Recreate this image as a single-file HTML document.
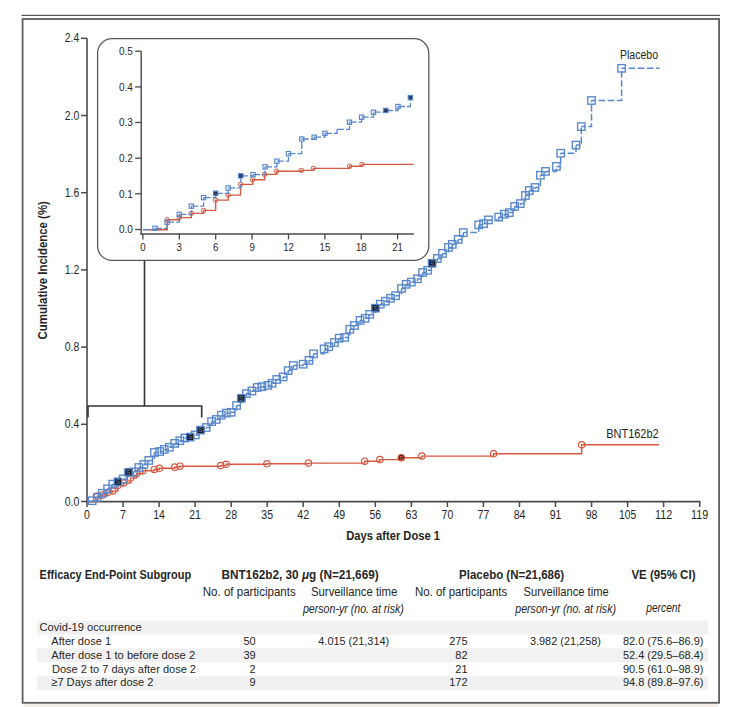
<!DOCTYPE html>
<html><head><meta charset="utf-8"><style>
html,body{margin:0;padding:0;background:#fff;}
svg{display:block;font-family:'Liberation Sans', sans-serif;}
</style></head><body>
<svg width="736" height="707" viewBox="0 0 736 707">
<rect width="736" height="707" fill="#fff"/>
<line x1="21.5" y1="15.3" x2="720" y2="15.3" stroke="#575757" stroke-width="1.3"/>
<rect x="22.6" y="19" width="696.5" height="683.8" fill="none" stroke="#5e5e5e" stroke-width="1.8"/>
<rect x="23.5" y="704" width="694.5" height="3" fill="#f3eee8"/>
<line x1="87" y1="38.3" x2="87" y2="502.4" stroke="#4a4a4a" stroke-width="1.6"/>
<line x1="86.2" y1="501.6" x2="700.4" y2="501.6" stroke="#4a4a4a" stroke-width="1.6"/>
<line x1="81" y1="501.5" x2="87" y2="501.5" stroke="#4a4a4a" stroke-width="1.5"/>
<text x="79.2" y="505.5" font-size="12" text-anchor="end" textLength="14.5" lengthAdjust="spacingAndGlyphs" fill="#262626">0.0</text>
<line x1="81" y1="424.3" x2="87" y2="424.3" stroke="#4a4a4a" stroke-width="1.5"/>
<text x="79.2" y="428.3" font-size="12" text-anchor="end" textLength="14.5" lengthAdjust="spacingAndGlyphs" fill="#262626">0.4</text>
<line x1="81" y1="347.1" x2="87" y2="347.1" stroke="#4a4a4a" stroke-width="1.5"/>
<text x="79.2" y="351.1" font-size="12" text-anchor="end" textLength="14.5" lengthAdjust="spacingAndGlyphs" fill="#262626">0.8</text>
<line x1="81" y1="269.9" x2="87" y2="269.9" stroke="#4a4a4a" stroke-width="1.5"/>
<text x="79.2" y="273.9" font-size="12" text-anchor="end" textLength="14.5" lengthAdjust="spacingAndGlyphs" fill="#262626">1.2</text>
<line x1="81" y1="192.7" x2="87" y2="192.7" stroke="#4a4a4a" stroke-width="1.5"/>
<text x="79.2" y="196.7" font-size="12" text-anchor="end" textLength="14.5" lengthAdjust="spacingAndGlyphs" fill="#262626">1.6</text>
<line x1="81" y1="115.5" x2="87" y2="115.5" stroke="#4a4a4a" stroke-width="1.5"/>
<text x="79.2" y="119.5" font-size="12" text-anchor="end" textLength="14.5" lengthAdjust="spacingAndGlyphs" fill="#262626">2.0</text>
<line x1="81" y1="38.3" x2="87" y2="38.3" stroke="#4a4a4a" stroke-width="1.5"/>
<text x="79.2" y="42.3" font-size="12" text-anchor="end" textLength="14.5" lengthAdjust="spacingAndGlyphs" fill="#262626">2.4</text>
<line x1="87.0" y1="501.6" x2="87.0" y2="507" stroke="#4a4a4a" stroke-width="1.5"/>
<text x="87.0" y="518.7" font-size="12" text-anchor="middle" textLength="5.9" lengthAdjust="spacingAndGlyphs" fill="#262626">0</text>
<line x1="123.0" y1="501.6" x2="123.0" y2="507" stroke="#4a4a4a" stroke-width="1.5"/>
<text x="123.0" y="518.7" font-size="12" text-anchor="middle" textLength="5.9" lengthAdjust="spacingAndGlyphs" fill="#262626">7</text>
<line x1="159.1" y1="501.6" x2="159.1" y2="507" stroke="#4a4a4a" stroke-width="1.5"/>
<text x="159.1" y="518.7" font-size="12" text-anchor="middle" textLength="11.7" lengthAdjust="spacingAndGlyphs" fill="#262626">14</text>
<line x1="195.1" y1="501.6" x2="195.1" y2="507" stroke="#4a4a4a" stroke-width="1.5"/>
<text x="195.1" y="518.7" font-size="12" text-anchor="middle" textLength="11.7" lengthAdjust="spacingAndGlyphs" fill="#262626">21</text>
<line x1="231.2" y1="501.6" x2="231.2" y2="507" stroke="#4a4a4a" stroke-width="1.5"/>
<text x="231.2" y="518.7" font-size="12" text-anchor="middle" textLength="11.7" lengthAdjust="spacingAndGlyphs" fill="#262626">28</text>
<line x1="267.2" y1="501.6" x2="267.2" y2="507" stroke="#4a4a4a" stroke-width="1.5"/>
<text x="267.2" y="518.7" font-size="12" text-anchor="middle" textLength="11.7" lengthAdjust="spacingAndGlyphs" fill="#262626">35</text>
<line x1="303.2" y1="501.6" x2="303.2" y2="507" stroke="#4a4a4a" stroke-width="1.5"/>
<text x="303.2" y="518.7" font-size="12" text-anchor="middle" textLength="11.7" lengthAdjust="spacingAndGlyphs" fill="#262626">42</text>
<line x1="339.3" y1="501.6" x2="339.3" y2="507" stroke="#4a4a4a" stroke-width="1.5"/>
<text x="339.3" y="518.7" font-size="12" text-anchor="middle" textLength="11.7" lengthAdjust="spacingAndGlyphs" fill="#262626">49</text>
<line x1="375.3" y1="501.6" x2="375.3" y2="507" stroke="#4a4a4a" stroke-width="1.5"/>
<text x="375.3" y="518.7" font-size="12" text-anchor="middle" textLength="11.7" lengthAdjust="spacingAndGlyphs" fill="#262626">56</text>
<line x1="411.4" y1="501.6" x2="411.4" y2="507" stroke="#4a4a4a" stroke-width="1.5"/>
<text x="411.4" y="518.7" font-size="12" text-anchor="middle" textLength="11.7" lengthAdjust="spacingAndGlyphs" fill="#262626">63</text>
<line x1="447.4" y1="501.6" x2="447.4" y2="507" stroke="#4a4a4a" stroke-width="1.5"/>
<text x="447.4" y="518.7" font-size="12" text-anchor="middle" textLength="11.7" lengthAdjust="spacingAndGlyphs" fill="#262626">70</text>
<line x1="483.4" y1="501.6" x2="483.4" y2="507" stroke="#4a4a4a" stroke-width="1.5"/>
<text x="483.4" y="518.7" font-size="12" text-anchor="middle" textLength="11.7" lengthAdjust="spacingAndGlyphs" fill="#262626">77</text>
<line x1="519.5" y1="501.6" x2="519.5" y2="507" stroke="#4a4a4a" stroke-width="1.5"/>
<text x="519.5" y="518.7" font-size="12" text-anchor="middle" textLength="11.7" lengthAdjust="spacingAndGlyphs" fill="#262626">84</text>
<line x1="555.5" y1="501.6" x2="555.5" y2="507" stroke="#4a4a4a" stroke-width="1.5"/>
<text x="555.5" y="518.7" font-size="12" text-anchor="middle" textLength="11.7" lengthAdjust="spacingAndGlyphs" fill="#262626">91</text>
<line x1="591.6" y1="501.6" x2="591.6" y2="507" stroke="#4a4a4a" stroke-width="1.5"/>
<text x="591.6" y="518.7" font-size="12" text-anchor="middle" textLength="11.7" lengthAdjust="spacingAndGlyphs" fill="#262626">98</text>
<line x1="627.6" y1="501.6" x2="627.6" y2="507" stroke="#4a4a4a" stroke-width="1.5"/>
<text x="627.6" y="518.7" font-size="12" text-anchor="middle" textLength="17.2" lengthAdjust="spacingAndGlyphs" fill="#262626">105</text>
<line x1="663.6" y1="501.6" x2="663.6" y2="507" stroke="#4a4a4a" stroke-width="1.5"/>
<text x="663.6" y="518.7" font-size="12" text-anchor="middle" textLength="17.2" lengthAdjust="spacingAndGlyphs" fill="#262626">112</text>
<line x1="699.7" y1="501.6" x2="699.7" y2="507" stroke="#4a4a4a" stroke-width="1.5"/>
<text x="699.7" y="518.7" font-size="12" text-anchor="middle" textLength="17.2" lengthAdjust="spacingAndGlyphs" fill="#262626">119</text>
<rect x="97.6" y="38.7" width="331.2" height="221.7" rx="14.5" ry="14.5" fill="none" stroke="#5a5a5a" stroke-width="1.3"/>
<line x1="141.2" y1="51.2" x2="141.2" y2="234.6" stroke="#4a4a4a" stroke-width="1.4"/>
<line x1="140.5" y1="234" x2="413.8" y2="234" stroke="#4a4a4a" stroke-width="1.4"/>
<line x1="135.1" y1="229.5" x2="141.2" y2="229.5" stroke="#4a4a4a" stroke-width="1.3"/>
<text x="132.8" y="233.2" font-size="11.2" text-anchor="end" textLength="13.9" lengthAdjust="spacingAndGlyphs" fill="#262626">0.0</text>
<line x1="135.1" y1="193.8" x2="141.2" y2="193.8" stroke="#4a4a4a" stroke-width="1.3"/>
<text x="132.8" y="197.5" font-size="11.2" text-anchor="end" textLength="13.9" lengthAdjust="spacingAndGlyphs" fill="#262626">0.1</text>
<line x1="135.1" y1="158.2" x2="141.2" y2="158.2" stroke="#4a4a4a" stroke-width="1.3"/>
<text x="132.8" y="161.9" font-size="11.2" text-anchor="end" textLength="13.9" lengthAdjust="spacingAndGlyphs" fill="#262626">0.2</text>
<line x1="135.1" y1="122.5" x2="141.2" y2="122.5" stroke="#4a4a4a" stroke-width="1.3"/>
<text x="132.8" y="126.2" font-size="11.2" text-anchor="end" textLength="13.9" lengthAdjust="spacingAndGlyphs" fill="#262626">0.3</text>
<line x1="135.1" y1="86.9" x2="141.2" y2="86.9" stroke="#4a4a4a" stroke-width="1.3"/>
<text x="132.8" y="90.6" font-size="11.2" text-anchor="end" textLength="13.9" lengthAdjust="spacingAndGlyphs" fill="#262626">0.4</text>
<line x1="135.1" y1="51.2" x2="141.2" y2="51.2" stroke="#4a4a4a" stroke-width="1.3"/>
<text x="132.8" y="54.9" font-size="11.2" text-anchor="end" textLength="13.9" lengthAdjust="spacingAndGlyphs" fill="#262626">0.5</text>
<line x1="142.9" y1="234" x2="142.9" y2="239.4" stroke="#4a4a4a" stroke-width="1.3"/>
<text x="142.9" y="250.9" font-size="11.0" text-anchor="middle" textLength="5.4" lengthAdjust="spacingAndGlyphs" fill="#262626">0</text>
<line x1="179.3" y1="234" x2="179.3" y2="239.4" stroke="#4a4a4a" stroke-width="1.3"/>
<text x="179.3" y="250.9" font-size="11.0" text-anchor="middle" textLength="5.4" lengthAdjust="spacingAndGlyphs" fill="#262626">3</text>
<line x1="215.7" y1="234" x2="215.7" y2="239.4" stroke="#4a4a4a" stroke-width="1.3"/>
<text x="215.7" y="250.9" font-size="11.0" text-anchor="middle" textLength="5.4" lengthAdjust="spacingAndGlyphs" fill="#262626">6</text>
<line x1="252.1" y1="234" x2="252.1" y2="239.4" stroke="#4a4a4a" stroke-width="1.3"/>
<text x="252.1" y="250.9" font-size="11.0" text-anchor="middle" textLength="5.4" lengthAdjust="spacingAndGlyphs" fill="#262626">9</text>
<line x1="288.5" y1="234" x2="288.5" y2="239.4" stroke="#4a4a4a" stroke-width="1.3"/>
<text x="288.5" y="250.9" font-size="11.0" text-anchor="middle" textLength="10.6" lengthAdjust="spacingAndGlyphs" fill="#262626">12</text>
<line x1="324.9" y1="234" x2="324.9" y2="239.4" stroke="#4a4a4a" stroke-width="1.3"/>
<text x="324.9" y="250.9" font-size="11.0" text-anchor="middle" textLength="10.6" lengthAdjust="spacingAndGlyphs" fill="#262626">15</text>
<line x1="361.2" y1="234" x2="361.2" y2="239.4" stroke="#4a4a4a" stroke-width="1.3"/>
<text x="361.2" y="250.9" font-size="11.0" text-anchor="middle" textLength="10.6" lengthAdjust="spacingAndGlyphs" fill="#262626">18</text>
<line x1="397.6" y1="234" x2="397.6" y2="239.4" stroke="#4a4a4a" stroke-width="1.3"/>
<text x="397.6" y="250.9" font-size="11.0" text-anchor="middle" textLength="10.6" lengthAdjust="spacingAndGlyphs" fill="#262626">21</text>
<path d="M88,417.5V406H201.7V417.5" fill="none" stroke="#333" stroke-width="1.6"/>
<line x1="144.5" y1="260.4" x2="144.5" y2="406" stroke="#333" stroke-width="1.6"/>
<path d="M142.9,229.7H167.2V219.7H179.3V217.6H191.4V213.3H203.6V210.4H215.7V200.1H228.2V195.1H240.5V184.4H252.7V179.7H264.6V174.4H276.6V171.2H301.3V170.4H313.3V168.3H349.6V166.2H362.1V164.4H413.6" fill="none" stroke="#d65a42" stroke-width="1.35"/>
<circle cx="167.16" cy="219.70" r="2.2" fill="none" stroke="#d65a42" stroke-width="1.0"/>
<circle cx="179.29" cy="217.56" r="2.2" fill="none" stroke="#d65a42" stroke-width="1.0"/>
<circle cx="191.42" cy="213.28" r="2.2" fill="none" stroke="#d65a42" stroke-width="1.0"/>
<circle cx="203.55" cy="210.42" r="2.2" fill="none" stroke="#d65a42" stroke-width="1.0"/>
<circle cx="215.68" cy="200.07" r="2.2" fill="none" stroke="#d65a42" stroke-width="1.0"/>
<circle cx="228.17" cy="195.07" r="2.2" fill="none" stroke="#d65a42" stroke-width="1.0"/>
<circle cx="240.55" cy="184.36" r="2.2" fill="none" stroke="#d65a42" stroke-width="1.0"/>
<circle cx="252.68" cy="179.72" r="2.2" fill="none" stroke="#d65a42" stroke-width="1.0"/>
<circle cx="264.56" cy="174.36" r="2.2" fill="none" stroke="#d65a42" stroke-width="1.0"/>
<circle cx="276.57" cy="171.15" r="2.2" fill="none" stroke="#d65a42" stroke-width="1.0"/>
<circle cx="301.32" cy="170.44" r="2.2" fill="none" stroke="#d65a42" stroke-width="1.0"/>
<circle cx="313.33" cy="168.30" r="2.2" fill="none" stroke="#d65a42" stroke-width="1.0"/>
<circle cx="349.60" cy="166.15" r="2.2" fill="none" stroke="#d65a42" stroke-width="1.0"/>
<circle cx="362.09" cy="164.37" r="2.2" fill="none" stroke="#d65a42" stroke-width="1.0"/>
<path d="M142.9,229.7H155.0V228.3" fill="none" stroke="#5787cc" stroke-width="1.3" stroke-dasharray="7 2" stroke-dashoffset="0"/>
<path d="M155.0,228.3H167.2V222.2" fill="none" stroke="#5787cc" stroke-width="1.3" stroke-dasharray="7 2" stroke-dashoffset="0"/>
<path d="M167.2,222.2H179.3V214.3" fill="none" stroke="#5787cc" stroke-width="1.3" stroke-dasharray="7 2" stroke-dashoffset="0"/>
<path d="M179.3,214.3H191.4V206.1" fill="none" stroke="#5787cc" stroke-width="1.3" stroke-dasharray="7 2" stroke-dashoffset="0"/>
<path d="M191.4,206.1H203.6V197.6" fill="none" stroke="#5787cc" stroke-width="1.3" stroke-dasharray="7 2" stroke-dashoffset="0"/>
<path d="M203.6,197.6H215.7V193.3" fill="none" stroke="#5787cc" stroke-width="1.3" stroke-dasharray="7 2" stroke-dashoffset="0"/>
<path d="M215.7,193.3H228.2V187.9" fill="none" stroke="#5787cc" stroke-width="1.3" stroke-dasharray="7 2" stroke-dashoffset="0"/>
<path d="M228.2,187.9H240.8V175.8" fill="none" stroke="#5787cc" stroke-width="1.3" stroke-dasharray="7 2" stroke-dashoffset="0"/>
<path d="M240.8,175.8H253.0V174.7" fill="none" stroke="#5787cc" stroke-width="1.3" stroke-dasharray="7 2" stroke-dashoffset="0"/>
<path d="M253.0,174.7H265.0V166.9" fill="none" stroke="#5787cc" stroke-width="1.3" stroke-dasharray="7 2" stroke-dashoffset="0"/>
<path d="M265.0,166.9H276.9V161.2" fill="none" stroke="#5787cc" stroke-width="1.3" stroke-dasharray="7 2" stroke-dashoffset="0"/>
<path d="M276.9,161.2H288.5V153.7" fill="none" stroke="#5787cc" stroke-width="1.3" stroke-dasharray="7 2" stroke-dashoffset="0"/>
<path d="M288.5,153.7H301.8V139.0" fill="none" stroke="#5787cc" stroke-width="1.3" stroke-dasharray="7 2" stroke-dashoffset="0"/>
<path d="M301.8,139.0H314.2V137.2" fill="none" stroke="#5787cc" stroke-width="1.3" stroke-dasharray="7 2" stroke-dashoffset="0"/>
<path d="M314.2,137.2H325.0V133.3" fill="none" stroke="#5787cc" stroke-width="1.3" stroke-dasharray="7 2" stroke-dashoffset="0"/>
<path d="M325.0,133.3H337.0V129.4" fill="none" stroke="#5787cc" stroke-width="1.3" stroke-dasharray="7 2" stroke-dashoffset="0"/>
<path d="M337.0,129.4H349.5V122.2" fill="none" stroke="#5787cc" stroke-width="1.3" stroke-dasharray="7 2" stroke-dashoffset="0"/>
<path d="M349.5,122.2H361.6V117.2" fill="none" stroke="#5787cc" stroke-width="1.3" stroke-dasharray="7 2" stroke-dashoffset="0"/>
<path d="M361.6,117.2H373.5V112.2" fill="none" stroke="#5787cc" stroke-width="1.3" stroke-dasharray="7 2" stroke-dashoffset="0"/>
<path d="M373.5,112.2H385.9V110.5" fill="none" stroke="#5787cc" stroke-width="1.3" stroke-dasharray="7 2" stroke-dashoffset="0"/>
<path d="M385.9,110.5H398.0V106.5" fill="none" stroke="#5787cc" stroke-width="1.3" stroke-dasharray="7 2" stroke-dashoffset="0"/>
<path d="M398.0,106.5H410.4V97.6" fill="none" stroke="#5787cc" stroke-width="1.3" stroke-dasharray="7 2" stroke-dashoffset="0"/>
<path d="M410.4,97.6H410.4" fill="none" stroke="#5787cc" stroke-width="1.3" stroke-dasharray="7 2" stroke-dashoffset="0"/>
<rect x="152.88" y="226.12" width="4.3" height="4.3" fill="none" stroke="#5787cc" stroke-width="1.15"/>
<rect x="165.01" y="220.05" width="4.3" height="4.3" fill="none" stroke="#5787cc" stroke-width="1.15"/>
<rect x="177.14" y="212.20" width="4.3" height="4.3" fill="none" stroke="#5787cc" stroke-width="1.15"/>
<rect x="189.27" y="203.99" width="4.3" height="4.3" fill="none" stroke="#5787cc" stroke-width="1.15"/>
<rect x="201.40" y="195.42" width="4.3" height="4.3" fill="none" stroke="#5787cc" stroke-width="1.15"/>
<rect x="226.02" y="185.78" width="4.3" height="4.3" fill="none" stroke="#5787cc" stroke-width="1.15"/>
<rect x="250.89" y="172.57" width="4.3" height="4.3" fill="none" stroke="#5787cc" stroke-width="1.15"/>
<rect x="262.90" y="164.72" width="4.3" height="4.3" fill="none" stroke="#5787cc" stroke-width="1.15"/>
<rect x="274.79" y="159.01" width="4.3" height="4.3" fill="none" stroke="#5787cc" stroke-width="1.15"/>
<rect x="286.31" y="151.51" width="4.3" height="4.3" fill="none" stroke="#5787cc" stroke-width="1.15"/>
<rect x="299.65" y="136.87" width="4.3" height="4.3" fill="none" stroke="#5787cc" stroke-width="1.15"/>
<rect x="312.03" y="135.09" width="4.3" height="4.3" fill="none" stroke="#5787cc" stroke-width="1.15"/>
<rect x="322.82" y="131.16" width="4.3" height="4.3" fill="none" stroke="#5787cc" stroke-width="1.15"/>
<rect x="347.32" y="120.09" width="4.3" height="4.3" fill="none" stroke="#5787cc" stroke-width="1.15"/>
<rect x="359.45" y="115.09" width="4.3" height="4.3" fill="none" stroke="#5787cc" stroke-width="1.15"/>
<rect x="371.34" y="110.10" width="4.3" height="4.3" fill="none" stroke="#5787cc" stroke-width="1.15"/>
<rect x="395.84" y="104.38" width="4.3" height="4.3" fill="none" stroke="#5787cc" stroke-width="1.15"/>
<rect x="213.53" y="191.14" width="4.3" height="4.3" fill="#1b1a22" stroke="#5787cc" stroke-width="1.15"/>
<text x="215.68" y="194.83" font-size="4.30" text-anchor="middle" fill="#4a78bb">S</text>
<rect x="238.64" y="173.64" width="4.3" height="4.3" fill="#1b1a22" stroke="#5787cc" stroke-width="1.15"/>
<text x="240.79" y="177.34" font-size="4.30" text-anchor="middle" fill="#4a78bb">S</text>
<rect x="383.71" y="108.31" width="4.3" height="4.3" fill="#1b1a22" stroke="#5787cc" stroke-width="1.15"/>
<text x="385.86" y="112.01" font-size="4.30" text-anchor="middle" fill="#4a78bb">S</text>
<rect x="408.22" y="95.46" width="4.3" height="4.3" fill="#1b1a22" stroke="#5787cc" stroke-width="1.15"/>
<text x="410.37" y="99.16" font-size="4.30" text-anchor="middle" fill="#4a78bb">S</text>
<path d="M87.0,501.5H97.3V496.1H102.4V494.9H107.6V492.6H112.7V491.1H117.9V485.5H123.7V483.0H130.6V478.1H136.5V473.7H142.8V470.8H154.2V469.5H159.3V468.3H174.7V467.1H180.0V466.2H220.7V465.6H226.1V464.3H266.9V463.8H308.5V463.1H364.7V461.2H379.9V459.6H401.3V457.7H421.9V456.1H493.6V453.8H581.7V444.8H659.0" fill="none" stroke="#d65a42" stroke-width="1.45"/>
<circle cx="97.30" cy="496.10" r="3.2" fill="none" stroke="#d65a42" stroke-width="1.2"/>
<circle cx="102.45" cy="494.94" r="3.2" fill="none" stroke="#d65a42" stroke-width="1.2"/>
<circle cx="107.59" cy="492.62" r="3.2" fill="none" stroke="#d65a42" stroke-width="1.2"/>
<circle cx="112.74" cy="491.08" r="3.2" fill="none" stroke="#d65a42" stroke-width="1.2"/>
<circle cx="117.89" cy="485.48" r="3.2" fill="none" stroke="#d65a42" stroke-width="1.2"/>
<circle cx="123.70" cy="483.00" r="3.2" fill="none" stroke="#d65a42" stroke-width="1.2"/>
<circle cx="130.60" cy="478.10" r="3.2" fill="none" stroke="#d65a42" stroke-width="1.2"/>
<circle cx="136.50" cy="473.70" r="3.2" fill="none" stroke="#d65a42" stroke-width="1.2"/>
<circle cx="142.80" cy="470.80" r="3.2" fill="none" stroke="#d65a42" stroke-width="1.2"/>
<circle cx="154.24" cy="469.46" r="3.2" fill="none" stroke="#d65a42" stroke-width="1.2"/>
<circle cx="159.34" cy="468.30" r="3.2" fill="none" stroke="#d65a42" stroke-width="1.2"/>
<circle cx="174.73" cy="467.15" r="3.2" fill="none" stroke="#d65a42" stroke-width="1.2"/>
<circle cx="180.03" cy="466.18" r="3.2" fill="none" stroke="#d65a42" stroke-width="1.2"/>
<circle cx="220.70" cy="465.60" r="3.2" fill="none" stroke="#d65a42" stroke-width="1.2"/>
<circle cx="226.10" cy="464.30" r="3.2" fill="none" stroke="#d65a42" stroke-width="1.2"/>
<circle cx="266.90" cy="463.80" r="3.2" fill="none" stroke="#d65a42" stroke-width="1.2"/>
<circle cx="308.50" cy="463.10" r="3.2" fill="none" stroke="#d65a42" stroke-width="1.2"/>
<circle cx="364.70" cy="461.20" r="3.2" fill="none" stroke="#d65a42" stroke-width="1.2"/>
<circle cx="379.90" cy="459.60" r="3.2" fill="none" stroke="#d65a42" stroke-width="1.2"/>
<circle cx="421.90" cy="456.10" r="3.2" fill="none" stroke="#d65a42" stroke-width="1.2"/>
<circle cx="493.60" cy="453.80" r="3.2" fill="none" stroke="#d65a42" stroke-width="1.2"/>
<circle cx="581.70" cy="444.80" r="3.2" fill="none" stroke="#d65a42" stroke-width="1.2"/>
<circle cx="401.30" cy="457.70" r="3.2" fill="#2c1a17" stroke="#d65a42" stroke-width="1.2"/>
<text x="401.30" y="459.89" font-size="6.08" text-anchor="middle" font-weight="bold" fill="#e0705a">S</text>
<path d="M87.0,501.5H92.1V500.7" fill="none" stroke="#5787cc" stroke-width="1.5" stroke-dasharray="6.6 2.6" stroke-dashoffset="2.2"/>
<path d="M92.1,500.7H97.3V497.4" fill="none" stroke="#5787cc" stroke-width="1.5" stroke-dasharray="6.6 2.6" stroke-dashoffset="2.2"/>
<path d="M97.3,497.4H102.4V493.2" fill="none" stroke="#5787cc" stroke-width="1.5" stroke-dasharray="6.6 2.6" stroke-dashoffset="2.2"/>
<path d="M102.4,493.2H107.6V488.8" fill="none" stroke="#5787cc" stroke-width="1.5" stroke-dasharray="6.6 2.6" stroke-dashoffset="2.2"/>
<path d="M107.6,488.8H112.7V484.1" fill="none" stroke="#5787cc" stroke-width="1.5" stroke-dasharray="6.6 2.6" stroke-dashoffset="2.2"/>
<path d="M112.7,484.1H117.9V481.8" fill="none" stroke="#5787cc" stroke-width="1.5" stroke-dasharray="6.6 2.6" stroke-dashoffset="2.2"/>
<path d="M117.9,481.8H123.2V478.9" fill="none" stroke="#5787cc" stroke-width="1.5" stroke-dasharray="6.6 2.6" stroke-dashoffset="2.2"/>
<path d="M123.2,478.9H128.5V472.4" fill="none" stroke="#5787cc" stroke-width="1.5" stroke-dasharray="6.6 2.6" stroke-dashoffset="2.2"/>
<path d="M128.5,472.4H133.7V471.8" fill="none" stroke="#5787cc" stroke-width="1.5" stroke-dasharray="6.6 2.6" stroke-dashoffset="2.2"/>
<path d="M133.7,471.8H138.8V467.5" fill="none" stroke="#5787cc" stroke-width="1.5" stroke-dasharray="6.6 2.6" stroke-dashoffset="2.2"/>
<path d="M138.8,467.5H143.9V464.4" fill="none" stroke="#5787cc" stroke-width="1.5" stroke-dasharray="6.6 2.6" stroke-dashoffset="2.2"/>
<path d="M143.9,464.4H148.8V460.4" fill="none" stroke="#5787cc" stroke-width="1.5" stroke-dasharray="6.6 2.6" stroke-dashoffset="2.2"/>
<path d="M148.8,460.4H154.4V452.5" fill="none" stroke="#5787cc" stroke-width="1.5" stroke-dasharray="6.6 2.6" stroke-dashoffset="2.2"/>
<path d="M154.4,452.5H159.7V451.5" fill="none" stroke="#5787cc" stroke-width="1.5" stroke-dasharray="6.6 2.6" stroke-dashoffset="2.2"/>
<path d="M159.7,451.5H164.3V449.4" fill="none" stroke="#5787cc" stroke-width="1.5" stroke-dasharray="6.6 2.6" stroke-dashoffset="2.2"/>
<path d="M164.3,449.4H169.4V447.3" fill="none" stroke="#5787cc" stroke-width="1.5" stroke-dasharray="6.6 2.6" stroke-dashoffset="2.2"/>
<path d="M169.4,447.3H174.7V443.4" fill="none" stroke="#5787cc" stroke-width="1.5" stroke-dasharray="6.6 2.6" stroke-dashoffset="2.2"/>
<path d="M174.7,443.4H179.8V440.7" fill="none" stroke="#5787cc" stroke-width="1.5" stroke-dasharray="6.6 2.6" stroke-dashoffset="2.2"/>
<path d="M179.8,440.7H184.9V438.0" fill="none" stroke="#5787cc" stroke-width="1.5" stroke-dasharray="6.6 2.6" stroke-dashoffset="2.2"/>
<path d="M184.9,438.0H190.1V437.0" fill="none" stroke="#5787cc" stroke-width="1.5" stroke-dasharray="6.6 2.6" stroke-dashoffset="2.2"/>
<path d="M190.1,437.0H195.3V434.9" fill="none" stroke="#5787cc" stroke-width="1.5" stroke-dasharray="6.6 2.6" stroke-dashoffset="2.2"/>
<path d="M195.3,434.9H200.5V430.1" fill="none" stroke="#5787cc" stroke-width="1.5" stroke-dasharray="6.6 2.6" stroke-dashoffset="2.2"/>
<path d="M200.5,430.1H206.2V427.5" fill="none" stroke="#5787cc" stroke-width="1.5" stroke-dasharray="6.6 2.6" stroke-dashoffset="2.2"/>
<path d="M206.2,427.5H211.6V421.6" fill="none" stroke="#5787cc" stroke-width="1.5" stroke-dasharray="6.6 2.6" stroke-dashoffset="2.2"/>
<path d="M211.6,421.6H216.2V419.5" fill="none" stroke="#5787cc" stroke-width="1.5" stroke-dasharray="6.6 2.6" stroke-dashoffset="2.2"/>
<path d="M216.2,419.5H221.3V415.2" fill="none" stroke="#5787cc" stroke-width="1.5" stroke-dasharray="6.6 2.6" stroke-dashoffset="2.2"/>
<path d="M221.3,415.2H226.4V413.1" fill="none" stroke="#5787cc" stroke-width="1.5" stroke-dasharray="6.6 2.6" stroke-dashoffset="2.2"/>
<path d="M226.4,413.1H231.1V412.3" fill="none" stroke="#5787cc" stroke-width="1.5" stroke-dasharray="6.6 2.6" stroke-dashoffset="2.2"/>
<path d="M231.1,412.3H236.6V405.5" fill="none" stroke="#5787cc" stroke-width="1.5" stroke-dasharray="6.6 2.6" stroke-dashoffset="2.2"/>
<path d="M236.6,405.5H241.3V398.3" fill="none" stroke="#5787cc" stroke-width="1.5" stroke-dasharray="6.6 2.6" stroke-dashoffset="2.2"/>
<path d="M241.3,398.3H246.4V393.6" fill="none" stroke="#5787cc" stroke-width="1.5" stroke-dasharray="6.6 2.6" stroke-dashoffset="2.2"/>
<path d="M246.4,393.6H251.9V391.0" fill="none" stroke="#5787cc" stroke-width="1.5" stroke-dasharray="6.6 2.6" stroke-dashoffset="2.2"/>
<path d="M251.9,391.0H257.2V387.5" fill="none" stroke="#5787cc" stroke-width="1.5" stroke-dasharray="6.6 2.6" stroke-dashoffset="2.2"/>
<path d="M257.2,387.5H261.9V386.7" fill="none" stroke="#5787cc" stroke-width="1.5" stroke-dasharray="6.6 2.6" stroke-dashoffset="2.2"/>
<path d="M261.9,386.7H267.8V385.4" fill="none" stroke="#5787cc" stroke-width="1.5" stroke-dasharray="6.6 2.6" stroke-dashoffset="2.2"/>
<path d="M267.8,385.4H272.1V383.3" fill="none" stroke="#5787cc" stroke-width="1.5" stroke-dasharray="6.6 2.6" stroke-dashoffset="2.2"/>
<path d="M272.1,383.3H276.7V379.5" fill="none" stroke="#5787cc" stroke-width="1.5" stroke-dasharray="6.6 2.6" stroke-dashoffset="2.2"/>
<path d="M276.7,379.5H283.1V376.9" fill="none" stroke="#5787cc" stroke-width="1.5" stroke-dasharray="6.6 2.6" stroke-dashoffset="2.2"/>
<path d="M283.1,376.9H288.2V370.6" fill="none" stroke="#5787cc" stroke-width="1.5" stroke-dasharray="6.6 2.6" stroke-dashoffset="2.2"/>
<path d="M288.2,370.6H293.3V365.5" fill="none" stroke="#5787cc" stroke-width="1.5" stroke-dasharray="6.6 2.6" stroke-dashoffset="2.2"/>
<path d="M293.3,365.5H303.1V364.2" fill="none" stroke="#5787cc" stroke-width="1.5" stroke-dasharray="6.6 2.6" stroke-dashoffset="2.2"/>
<path d="M303.1,364.2H309.0V360.4" fill="none" stroke="#5787cc" stroke-width="1.5" stroke-dasharray="6.6 2.6" stroke-dashoffset="2.2"/>
<path d="M309.0,360.4H313.5V353.8" fill="none" stroke="#5787cc" stroke-width="1.5" stroke-dasharray="6.6 2.6" stroke-dashoffset="2.2"/>
<path d="M313.5,353.8H324.1V348.9" fill="none" stroke="#5787cc" stroke-width="1.5" stroke-dasharray="6.6 2.6" stroke-dashoffset="2.2"/>
<path d="M324.1,348.9H328.8V346.7" fill="none" stroke="#5787cc" stroke-width="1.5" stroke-dasharray="6.6 2.6" stroke-dashoffset="2.2"/>
<path d="M328.8,346.7H334.5V342.5" fill="none" stroke="#5787cc" stroke-width="1.5" stroke-dasharray="6.6 2.6" stroke-dashoffset="2.2"/>
<path d="M334.5,342.5H339.2V338.2" fill="none" stroke="#5787cc" stroke-width="1.5" stroke-dasharray="6.6 2.6" stroke-dashoffset="2.2"/>
<path d="M339.2,338.2H344.7V337.4" fill="none" stroke="#5787cc" stroke-width="1.5" stroke-dasharray="6.6 2.6" stroke-dashoffset="2.2"/>
<path d="M344.7,337.4H349.8V329.3" fill="none" stroke="#5787cc" stroke-width="1.5" stroke-dasharray="6.6 2.6" stroke-dashoffset="2.2"/>
<path d="M349.8,329.3H354.5V325.5" fill="none" stroke="#5787cc" stroke-width="1.5" stroke-dasharray="6.6 2.6" stroke-dashoffset="2.2"/>
<path d="M354.5,325.5H360.0V320.4" fill="none" stroke="#5787cc" stroke-width="1.5" stroke-dasharray="6.6 2.6" stroke-dashoffset="2.2"/>
<path d="M360.0,320.4H365.1V318.3" fill="none" stroke="#5787cc" stroke-width="1.5" stroke-dasharray="6.6 2.6" stroke-dashoffset="2.2"/>
<path d="M365.1,318.3H369.7V314.4" fill="none" stroke="#5787cc" stroke-width="1.5" stroke-dasharray="6.6 2.6" stroke-dashoffset="2.2"/>
<path d="M369.7,314.4H375.4V308.2" fill="none" stroke="#5787cc" stroke-width="1.5" stroke-dasharray="6.6 2.6" stroke-dashoffset="2.2"/>
<path d="M375.4,308.2H380.3V304.2" fill="none" stroke="#5787cc" stroke-width="1.5" stroke-dasharray="6.6 2.6" stroke-dashoffset="2.2"/>
<path d="M380.3,304.2H385.4V301.2" fill="none" stroke="#5787cc" stroke-width="1.5" stroke-dasharray="6.6 2.6" stroke-dashoffset="2.2"/>
<path d="M385.4,301.2H390.5V298.3" fill="none" stroke="#5787cc" stroke-width="1.5" stroke-dasharray="6.6 2.6" stroke-dashoffset="2.2"/>
<path d="M390.5,298.3H395.6V295.7" fill="none" stroke="#5787cc" stroke-width="1.5" stroke-dasharray="6.6 2.6" stroke-dashoffset="2.2"/>
<path d="M395.6,295.7H401.5V288.5" fill="none" stroke="#5787cc" stroke-width="1.5" stroke-dasharray="6.6 2.6" stroke-dashoffset="2.2"/>
<path d="M401.5,288.5H406.2V284.3" fill="none" stroke="#5787cc" stroke-width="1.5" stroke-dasharray="6.6 2.6" stroke-dashoffset="2.2"/>
<path d="M406.2,284.3H411.3V282.1" fill="none" stroke="#5787cc" stroke-width="1.5" stroke-dasharray="6.6 2.6" stroke-dashoffset="2.2"/>
<path d="M411.3,282.1H417.5V278.8" fill="none" stroke="#5787cc" stroke-width="1.5" stroke-dasharray="6.6 2.6" stroke-dashoffset="2.2"/>
<path d="M417.5,278.8H422.6V272.5" fill="none" stroke="#5787cc" stroke-width="1.5" stroke-dasharray="6.6 2.6" stroke-dashoffset="2.2"/>
<path d="M422.6,272.5H427.7V270.3" fill="none" stroke="#5787cc" stroke-width="1.5" stroke-dasharray="6.6 2.6" stroke-dashoffset="2.2"/>
<path d="M427.7,270.3H432.1V263.3" fill="none" stroke="#5787cc" stroke-width="1.5" stroke-dasharray="6.6 2.6" stroke-dashoffset="2.2"/>
<path d="M432.1,263.3H437.4V258.5" fill="none" stroke="#5787cc" stroke-width="1.5" stroke-dasharray="6.6 2.6" stroke-dashoffset="2.2"/>
<path d="M437.4,258.5H442.5V253.4" fill="none" stroke="#5787cc" stroke-width="1.5" stroke-dasharray="6.6 2.6" stroke-dashoffset="2.2"/>
<path d="M442.5,253.4H448.5V247.4" fill="none" stroke="#5787cc" stroke-width="1.5" stroke-dasharray="6.6 2.6" stroke-dashoffset="2.2"/>
<path d="M448.5,247.4H452.3V244.4" fill="none" stroke="#5787cc" stroke-width="1.5" stroke-dasharray="6.6 2.6" stroke-dashoffset="2.2"/>
<path d="M452.3,244.4H458.2V239.4" fill="none" stroke="#5787cc" stroke-width="1.5" stroke-dasharray="6.6 2.6" stroke-dashoffset="2.2"/>
<path d="M458.2,239.4H463.3V232.6" fill="none" stroke="#5787cc" stroke-width="1.5" stroke-dasharray="6.6 2.6" stroke-dashoffset="2.2"/>
<path d="M463.3,232.6H478.7V224.8" fill="none" stroke="#5787cc" stroke-width="1.5" stroke-dasharray="6.6 2.6" stroke-dashoffset="2.2"/>
<path d="M478.7,224.8H483.6V223.6" fill="none" stroke="#5787cc" stroke-width="1.5" stroke-dasharray="6.6 2.6" stroke-dashoffset="2.2"/>
<path d="M483.6,223.6H488.5V219.9" fill="none" stroke="#5787cc" stroke-width="1.5" stroke-dasharray="6.6 2.6" stroke-dashoffset="2.2"/>
<path d="M488.5,219.9H498.7V217.1" fill="none" stroke="#5787cc" stroke-width="1.5" stroke-dasharray="6.6 2.6" stroke-dashoffset="2.2"/>
<path d="M498.7,217.1H504.4V214.2" fill="none" stroke="#5787cc" stroke-width="1.5" stroke-dasharray="6.6 2.6" stroke-dashoffset="2.2"/>
<path d="M504.4,214.2H509.3V212.6" fill="none" stroke="#5787cc" stroke-width="1.5" stroke-dasharray="6.6 2.6" stroke-dashoffset="2.2"/>
<path d="M509.3,212.6H514.6V206.5" fill="none" stroke="#5787cc" stroke-width="1.5" stroke-dasharray="6.6 2.6" stroke-dashoffset="2.2"/>
<path d="M514.6,206.5H520.3V203.6" fill="none" stroke="#5787cc" stroke-width="1.5" stroke-dasharray="6.6 2.6" stroke-dashoffset="2.2"/>
<path d="M520.3,203.6H525.4V195.5" fill="none" stroke="#5787cc" stroke-width="1.5" stroke-dasharray="6.6 2.6" stroke-dashoffset="2.2"/>
<path d="M525.4,195.5H529.3V190.5" fill="none" stroke="#5787cc" stroke-width="1.5" stroke-dasharray="6.6 2.6" stroke-dashoffset="2.2"/>
<path d="M529.3,190.5H534.9V187.5" fill="none" stroke="#5787cc" stroke-width="1.5" stroke-dasharray="6.6 2.6" stroke-dashoffset="2.2"/>
<path d="M534.9,187.5H540.4V175.2" fill="none" stroke="#5787cc" stroke-width="1.5" stroke-dasharray="6.6 2.6" stroke-dashoffset="2.2"/>
<path d="M540.4,175.2H545.5V171.4" fill="none" stroke="#5787cc" stroke-width="1.5" stroke-dasharray="6.6 2.6" stroke-dashoffset="2.2"/>
<path d="M545.5,171.4H556.4V166.4" fill="none" stroke="#5787cc" stroke-width="1.5" stroke-dasharray="6.6 2.6" stroke-dashoffset="2.2"/>
<path d="M556.4,166.4H560.7V153.2" fill="none" stroke="#5787cc" stroke-width="1.5" stroke-dasharray="6.6 2.6" stroke-dashoffset="2.2"/>
<path d="M560.7,153.2H576.0V145.1" fill="none" stroke="#5787cc" stroke-width="1.5" stroke-dasharray="6.6 2.6" stroke-dashoffset="2.2"/>
<path d="M576.0,145.1H581.3V126.6" fill="none" stroke="#5787cc" stroke-width="1.5" stroke-dasharray="6.6 2.6" stroke-dashoffset="2.2"/>
<path d="M581.3,126.6H591.5V100.5" fill="none" stroke="#5787cc" stroke-width="1.5" stroke-dasharray="6.6 2.6" stroke-dashoffset="2.2"/>
<path d="M591.5,100.5H621.6V68.3" fill="none" stroke="#5787cc" stroke-width="1.5" stroke-dasharray="6.6 2.6" stroke-dashoffset="2.2"/>
<path d="M621.6,68.3H659.5" fill="none" stroke="#5787cc" stroke-width="1.5" stroke-dasharray="6.6 2.6" stroke-dashoffset="2.2"/>
<rect x="88.45" y="497.03" width="7.4" height="7.4" fill="none" stroke="#5787cc" stroke-width="1.35"/>
<rect x="93.60" y="493.75" width="7.4" height="7.4" fill="none" stroke="#5787cc" stroke-width="1.35"/>
<rect x="98.75" y="489.50" width="7.4" height="7.4" fill="none" stroke="#5787cc" stroke-width="1.35"/>
<rect x="103.89" y="485.06" width="7.4" height="7.4" fill="none" stroke="#5787cc" stroke-width="1.35"/>
<rect x="109.04" y="480.43" width="7.4" height="7.4" fill="none" stroke="#5787cc" stroke-width="1.35"/>
<rect x="119.49" y="475.22" width="7.4" height="7.4" fill="none" stroke="#5787cc" stroke-width="1.35"/>
<rect x="130.05" y="468.08" width="7.4" height="7.4" fill="none" stroke="#5787cc" stroke-width="1.35"/>
<rect x="135.15" y="463.83" width="7.4" height="7.4" fill="none" stroke="#5787cc" stroke-width="1.35"/>
<rect x="140.19" y="460.74" width="7.4" height="7.4" fill="none" stroke="#5787cc" stroke-width="1.35"/>
<rect x="145.08" y="456.69" width="7.4" height="7.4" fill="none" stroke="#5787cc" stroke-width="1.35"/>
<rect x="150.75" y="448.78" width="7.4" height="7.4" fill="none" stroke="#5787cc" stroke-width="1.35"/>
<rect x="156.00" y="447.81" width="7.4" height="7.4" fill="none" stroke="#5787cc" stroke-width="1.35"/>
<rect x="160.58" y="445.69" width="7.4" height="7.4" fill="none" stroke="#5787cc" stroke-width="1.35"/>
<rect x="165.68" y="443.57" width="7.4" height="7.4" fill="none" stroke="#5787cc" stroke-width="1.35"/>
<rect x="170.98" y="439.71" width="7.4" height="7.4" fill="none" stroke="#5787cc" stroke-width="1.35"/>
<rect x="176.13" y="437.00" width="7.4" height="7.4" fill="none" stroke="#5787cc" stroke-width="1.35"/>
<rect x="181.17" y="434.30" width="7.4" height="7.4" fill="none" stroke="#5787cc" stroke-width="1.35"/>
<rect x="191.57" y="431.22" width="7.4" height="7.4" fill="none" stroke="#5787cc" stroke-width="1.35"/>
<rect x="202.50" y="423.80" width="7.4" height="7.4" fill="none" stroke="#5787cc" stroke-width="1.35"/>
<rect x="207.90" y="417.90" width="7.4" height="7.4" fill="none" stroke="#5787cc" stroke-width="1.35"/>
<rect x="212.50" y="415.80" width="7.4" height="7.4" fill="none" stroke="#5787cc" stroke-width="1.35"/>
<rect x="217.60" y="411.50" width="7.4" height="7.4" fill="none" stroke="#5787cc" stroke-width="1.35"/>
<rect x="222.70" y="409.40" width="7.4" height="7.4" fill="none" stroke="#5787cc" stroke-width="1.35"/>
<rect x="227.40" y="408.60" width="7.4" height="7.4" fill="none" stroke="#5787cc" stroke-width="1.35"/>
<rect x="232.90" y="401.80" width="7.4" height="7.4" fill="none" stroke="#5787cc" stroke-width="1.35"/>
<rect x="242.70" y="389.90" width="7.4" height="7.4" fill="none" stroke="#5787cc" stroke-width="1.35"/>
<rect x="248.20" y="387.30" width="7.4" height="7.4" fill="none" stroke="#5787cc" stroke-width="1.35"/>
<rect x="253.50" y="383.80" width="7.4" height="7.4" fill="none" stroke="#5787cc" stroke-width="1.35"/>
<rect x="258.20" y="383.00" width="7.4" height="7.4" fill="none" stroke="#5787cc" stroke-width="1.35"/>
<rect x="264.10" y="381.70" width="7.4" height="7.4" fill="none" stroke="#5787cc" stroke-width="1.35"/>
<rect x="268.40" y="379.60" width="7.4" height="7.4" fill="none" stroke="#5787cc" stroke-width="1.35"/>
<rect x="273.00" y="375.80" width="7.4" height="7.4" fill="none" stroke="#5787cc" stroke-width="1.35"/>
<rect x="279.40" y="373.20" width="7.4" height="7.4" fill="none" stroke="#5787cc" stroke-width="1.35"/>
<rect x="284.50" y="366.90" width="7.4" height="7.4" fill="none" stroke="#5787cc" stroke-width="1.35"/>
<rect x="289.60" y="361.80" width="7.4" height="7.4" fill="none" stroke="#5787cc" stroke-width="1.35"/>
<rect x="299.40" y="360.50" width="7.4" height="7.4" fill="none" stroke="#5787cc" stroke-width="1.35"/>
<rect x="305.30" y="356.70" width="7.4" height="7.4" fill="none" stroke="#5787cc" stroke-width="1.35"/>
<rect x="309.80" y="350.10" width="7.4" height="7.4" fill="none" stroke="#5787cc" stroke-width="1.35"/>
<rect x="320.40" y="345.20" width="7.4" height="7.4" fill="none" stroke="#5787cc" stroke-width="1.35"/>
<rect x="325.10" y="343.00" width="7.4" height="7.4" fill="none" stroke="#5787cc" stroke-width="1.35"/>
<rect x="330.80" y="338.80" width="7.4" height="7.4" fill="none" stroke="#5787cc" stroke-width="1.35"/>
<rect x="335.50" y="334.50" width="7.4" height="7.4" fill="none" stroke="#5787cc" stroke-width="1.35"/>
<rect x="341.00" y="333.70" width="7.4" height="7.4" fill="none" stroke="#5787cc" stroke-width="1.35"/>
<rect x="346.10" y="325.60" width="7.4" height="7.4" fill="none" stroke="#5787cc" stroke-width="1.35"/>
<rect x="350.80" y="321.80" width="7.4" height="7.4" fill="none" stroke="#5787cc" stroke-width="1.35"/>
<rect x="356.30" y="316.70" width="7.4" height="7.4" fill="none" stroke="#5787cc" stroke-width="1.35"/>
<rect x="361.40" y="314.60" width="7.4" height="7.4" fill="none" stroke="#5787cc" stroke-width="1.35"/>
<rect x="366.00" y="310.70" width="7.4" height="7.4" fill="none" stroke="#5787cc" stroke-width="1.35"/>
<rect x="376.60" y="300.50" width="7.4" height="7.4" fill="none" stroke="#5787cc" stroke-width="1.35"/>
<rect x="381.70" y="297.50" width="7.4" height="7.4" fill="none" stroke="#5787cc" stroke-width="1.35"/>
<rect x="386.80" y="294.60" width="7.4" height="7.4" fill="none" stroke="#5787cc" stroke-width="1.35"/>
<rect x="391.90" y="292.00" width="7.4" height="7.4" fill="none" stroke="#5787cc" stroke-width="1.35"/>
<rect x="397.80" y="284.80" width="7.4" height="7.4" fill="none" stroke="#5787cc" stroke-width="1.35"/>
<rect x="402.50" y="280.60" width="7.4" height="7.4" fill="none" stroke="#5787cc" stroke-width="1.35"/>
<rect x="407.60" y="278.40" width="7.4" height="7.4" fill="none" stroke="#5787cc" stroke-width="1.35"/>
<rect x="413.80" y="275.10" width="7.4" height="7.4" fill="none" stroke="#5787cc" stroke-width="1.35"/>
<rect x="418.90" y="268.80" width="7.4" height="7.4" fill="none" stroke="#5787cc" stroke-width="1.35"/>
<rect x="424.00" y="266.60" width="7.4" height="7.4" fill="none" stroke="#5787cc" stroke-width="1.35"/>
<rect x="433.70" y="254.80" width="7.4" height="7.4" fill="none" stroke="#5787cc" stroke-width="1.35"/>
<rect x="438.80" y="249.70" width="7.4" height="7.4" fill="none" stroke="#5787cc" stroke-width="1.35"/>
<rect x="444.80" y="243.70" width="7.4" height="7.4" fill="none" stroke="#5787cc" stroke-width="1.35"/>
<rect x="448.60" y="240.70" width="7.4" height="7.4" fill="none" stroke="#5787cc" stroke-width="1.35"/>
<rect x="454.50" y="235.70" width="7.4" height="7.4" fill="none" stroke="#5787cc" stroke-width="1.35"/>
<rect x="459.60" y="228.90" width="7.4" height="7.4" fill="none" stroke="#5787cc" stroke-width="1.35"/>
<rect x="475.00" y="221.10" width="7.4" height="7.4" fill="none" stroke="#5787cc" stroke-width="1.35"/>
<rect x="479.90" y="219.90" width="7.4" height="7.4" fill="none" stroke="#5787cc" stroke-width="1.35"/>
<rect x="484.80" y="216.20" width="7.4" height="7.4" fill="none" stroke="#5787cc" stroke-width="1.35"/>
<rect x="495.00" y="213.40" width="7.4" height="7.4" fill="none" stroke="#5787cc" stroke-width="1.35"/>
<rect x="500.70" y="210.50" width="7.4" height="7.4" fill="none" stroke="#5787cc" stroke-width="1.35"/>
<rect x="505.60" y="208.90" width="7.4" height="7.4" fill="none" stroke="#5787cc" stroke-width="1.35"/>
<rect x="510.90" y="202.80" width="7.4" height="7.4" fill="none" stroke="#5787cc" stroke-width="1.35"/>
<rect x="516.60" y="199.90" width="7.4" height="7.4" fill="none" stroke="#5787cc" stroke-width="1.35"/>
<rect x="521.70" y="191.80" width="7.4" height="7.4" fill="none" stroke="#5787cc" stroke-width="1.35"/>
<rect x="525.60" y="186.80" width="7.4" height="7.4" fill="none" stroke="#5787cc" stroke-width="1.35"/>
<rect x="531.20" y="183.80" width="7.4" height="7.4" fill="none" stroke="#5787cc" stroke-width="1.35"/>
<rect x="536.70" y="171.50" width="7.4" height="7.4" fill="none" stroke="#5787cc" stroke-width="1.35"/>
<rect x="541.80" y="167.70" width="7.4" height="7.4" fill="none" stroke="#5787cc" stroke-width="1.35"/>
<rect x="552.70" y="162.70" width="7.4" height="7.4" fill="none" stroke="#5787cc" stroke-width="1.35"/>
<rect x="557.00" y="149.50" width="7.4" height="7.4" fill="none" stroke="#5787cc" stroke-width="1.35"/>
<rect x="572.30" y="141.40" width="7.4" height="7.4" fill="none" stroke="#5787cc" stroke-width="1.35"/>
<rect x="577.60" y="122.90" width="7.4" height="7.4" fill="none" stroke="#5787cc" stroke-width="1.35"/>
<rect x="587.80" y="96.80" width="7.4" height="7.4" fill="none" stroke="#5787cc" stroke-width="1.35"/>
<rect x="617.90" y="64.60" width="7.4" height="7.4" fill="none" stroke="#5787cc" stroke-width="1.35"/>
<rect x="114.19" y="478.11" width="7.4" height="7.4" fill="#1b1a22" stroke="#5787cc" stroke-width="1.35"/>
<text x="117.89" y="484.21" font-size="6.66" text-anchor="middle" fill="#5a82c0">S</text>
<rect x="124.85" y="468.66" width="7.4" height="7.4" fill="#1b1a22" stroke="#5787cc" stroke-width="1.35"/>
<text x="128.55" y="474.75" font-size="6.66" text-anchor="middle" fill="#5a82c0">S</text>
<rect x="186.43" y="433.34" width="7.4" height="7.4" fill="#1b1a22" stroke="#5787cc" stroke-width="1.35"/>
<text x="190.13" y="439.44" font-size="6.66" text-anchor="middle" fill="#5a82c0">S</text>
<rect x="196.83" y="426.39" width="7.4" height="7.4" fill="#1b1a22" stroke="#5787cc" stroke-width="1.35"/>
<text x="200.53" y="432.49" font-size="6.66" text-anchor="middle" fill="#5a82c0">S</text>
<rect x="237.60" y="394.60" width="7.4" height="7.4" fill="#1b1a22" stroke="#5787cc" stroke-width="1.35"/>
<text x="241.30" y="400.70" font-size="6.66" text-anchor="middle" fill="#5a82c0">S</text>
<rect x="371.70" y="304.50" width="7.4" height="7.4" fill="#1b1a22" stroke="#5787cc" stroke-width="1.35"/>
<text x="375.40" y="310.60" font-size="6.66" text-anchor="middle" fill="#5a82c0">S</text>
<rect x="428.40" y="259.60" width="7.4" height="7.4" fill="#1b1a22" stroke="#5787cc" stroke-width="1.35"/>
<text x="432.10" y="265.70" font-size="6.66" text-anchor="middle" fill="#5a82c0">S</text>
<text x="620" y="58.6" font-size="12" textLength="38" lengthAdjust="spacingAndGlyphs" fill="#262626">Placebo</text>
<text x="606.2" y="437.6" font-size="12" textLength="52.5" lengthAdjust="spacingAndGlyphs" fill="#262626">BNT162b2</text>
<text x="0" y="0" font-size="12" text-anchor="middle" font-weight="bold" textLength="138.3" lengthAdjust="spacingAndGlyphs" fill="#262626" transform="translate(47,270.3) rotate(-90)">Cumulative Incidence (%)</text>
<text x="346.3" y="539.8" font-size="12" font-weight="bold" textLength="93.6" lengthAdjust="spacingAndGlyphs" fill="#262626">Days after Dose 1</text>
<rect x="37.0" y="620.7" width="671.1" height="14.0" fill="#f1f1f1"/>
<rect x="37.0" y="648.4" width="671.1" height="13.9" fill="#f1f1f1"/>
<rect x="37.0" y="676.2" width="671.1" height="14.0" fill="#f1f1f1"/>
<text x="39.6" y="579" font-size="12" font-weight="bold" textLength="151.6" lengthAdjust="spacingAndGlyphs" fill="#262626">Efficacy End-Point Subgroup</text>
<text x="221.4" y="579" font-size="12" font-weight="bold" textLength="157.3" lengthAdjust="spacingAndGlyphs" fill="#262626">BNT162b2, 30 <tspan font-style="italic">μ</tspan>g (N=21,669)</text>
<text x="459.1" y="579" font-size="12" font-weight="bold" textLength="105.1" lengthAdjust="spacingAndGlyphs" fill="#262626">Placebo (N=21,686)</text>
<text x="631.4" y="579" font-size="12" font-weight="bold" textLength="64.1" lengthAdjust="spacingAndGlyphs" fill="#262626">VE (95% CI)</text>
<text x="202.8" y="596.2" font-size="12" textLength="92.9" lengthAdjust="spacingAndGlyphs" fill="#262626">No. of participants</text>
<text x="311" y="596.2" font-size="12" textLength="86.3" lengthAdjust="spacingAndGlyphs" fill="#262626">Surveillance time</text>
<text x="414.9" y="596.2" font-size="12" textLength="92.3" lengthAdjust="spacingAndGlyphs" fill="#262626">No. of participants</text>
<text x="523.6" y="596.2" font-size="12" textLength="85.1" lengthAdjust="spacingAndGlyphs" fill="#262626">Surveillance time</text>
<text x="302.9" y="612.6" font-size="12" font-style="italic" textLength="101" lengthAdjust="spacingAndGlyphs" fill="#262626">person-yr (no. at risk)</text>
<text x="515.3" y="612.6" font-size="12" font-style="italic" textLength="100.7" lengthAdjust="spacingAndGlyphs" fill="#262626">person-yr (no. at risk)</text>
<text x="646.2" y="612.0" font-size="12" font-style="italic" textLength="34.2" lengthAdjust="spacingAndGlyphs" fill="#262626">percent</text>
<text x="39.6" y="631.2" font-size="11.4" textLength="102.2" lengthAdjust="spacingAndGlyphs" fill="#262626">Covid-19 occurrence</text>
<text x="51.3" y="645.3" font-size="11.4" textLength="59.9" lengthAdjust="spacingAndGlyphs" fill="#262626">After dose 1</text>
<text x="255.7" y="645.3" font-size="11.4" text-anchor="end" textLength="12.2" lengthAdjust="spacingAndGlyphs" fill="#262626">50</text>
<text x="318.3" y="645.3" font-size="11.4" textLength="70.9" lengthAdjust="spacingAndGlyphs" fill="#262626">4.015 (21,314)</text>
<text x="467.5" y="645.3" font-size="11.4" text-anchor="end" textLength="18.299999999999997" lengthAdjust="spacingAndGlyphs" fill="#262626">275</text>
<text x="529.9" y="645.3" font-size="11.4" textLength="71.1" lengthAdjust="spacingAndGlyphs" fill="#262626">3.982 (21,258)</text>
<text x="622.9" y="645.3" font-size="11.4" textLength="80.5" lengthAdjust="spacingAndGlyphs" fill="#262626">82.0 (75.6–86.9)</text>
<text x="51.3" y="658.9" font-size="11.4" textLength="143.8" lengthAdjust="spacingAndGlyphs" fill="#262626">After dose 1 to before dose 2</text>
<text x="255.7" y="658.9" font-size="11.4" text-anchor="end" textLength="12.2" lengthAdjust="spacingAndGlyphs" fill="#262626">39</text>
<text x="467.5" y="658.9" font-size="11.4" text-anchor="end" textLength="12.2" lengthAdjust="spacingAndGlyphs" fill="#262626">82</text>
<text x="622.9" y="658.9" font-size="11.4" textLength="80.5" lengthAdjust="spacingAndGlyphs" fill="#262626">52.4 (29.5–68.4)</text>
<text x="52.0" y="672.6" font-size="11.4" textLength="144.0" lengthAdjust="spacingAndGlyphs" fill="#262626">Dose 2 to 7 days after dose 2</text>
<text x="255.7" y="672.6" font-size="11.4" text-anchor="end" textLength="6.1" lengthAdjust="spacingAndGlyphs" fill="#262626">2</text>
<text x="467.5" y="672.6" font-size="11.4" text-anchor="end" textLength="12.2" lengthAdjust="spacingAndGlyphs" fill="#262626">21</text>
<text x="622.9" y="672.6" font-size="11.4" textLength="80.5" lengthAdjust="spacingAndGlyphs" fill="#262626">90.5 (61.0–98.9)</text>
<text x="51.3" y="686.0" font-size="11.4" textLength="102.2" lengthAdjust="spacingAndGlyphs" fill="#262626">≥7 Days after dose 2</text>
<text x="255.7" y="686.0" font-size="11.4" text-anchor="end" textLength="6.1" lengthAdjust="spacingAndGlyphs" fill="#262626">9</text>
<text x="467.5" y="686.0" font-size="11.4" text-anchor="end" textLength="18.299999999999997" lengthAdjust="spacingAndGlyphs" fill="#262626">172</text>
<text x="622.9" y="686.0" font-size="11.4" textLength="80.5" lengthAdjust="spacingAndGlyphs" fill="#262626">94.8 (89.8–97.6)</text>
</svg>
</body></html>
